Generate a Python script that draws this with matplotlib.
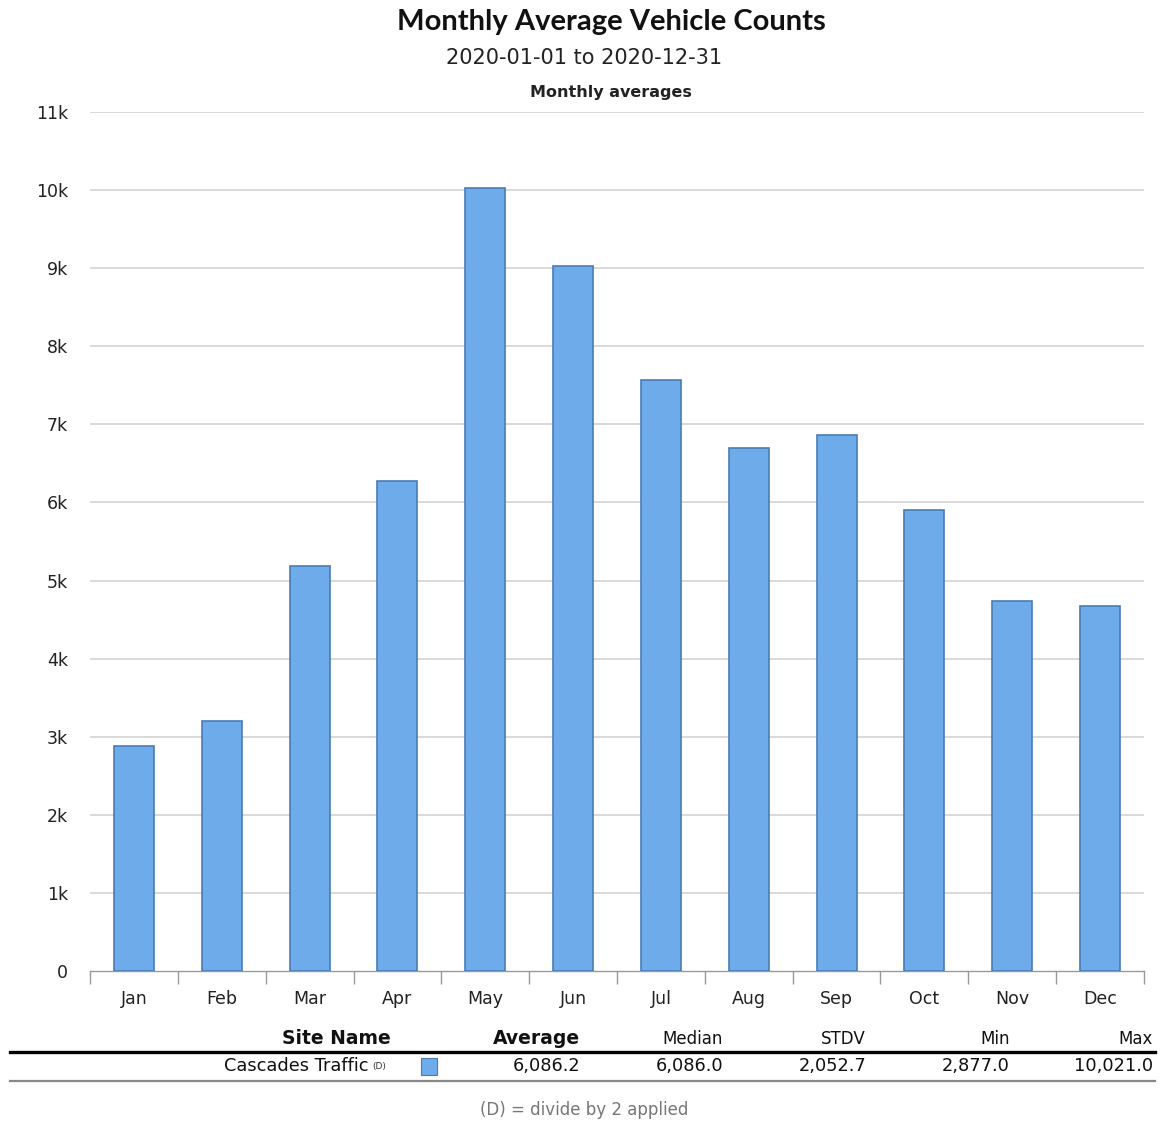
import matplotlib
matplotlib.use("Agg")
import matplotlib.pyplot as plt
from matplotlib.lines import Line2D
from matplotlib.patches import Rectangle
import numpy as np

# ---- data ----
months = ["Jan", "Feb", "Mar", "Apr", "May", "Jun",
          "Jul", "Aug", "Sep", "Oct", "Nov", "Dec"]
avg_counts = [2877, 3200, 5190, 6270, 10021, 9030,
              7570, 6700, 6860, 5902, 4740, 4680]
y_ticks = [0, 1000, 2000, 3000, 4000, 5000, 6000, 7000, 8000, 9000, 10000, 11000]
y_tick_labels = ["0", "1k", "2k", "3k", "4k", "5k", "6k", "7k", "8k", "9k", "10k", "11k"]

table_headers = ["Site Name", "Average", "Median", "STDV", "Min", "Max"]
site_name = "Cascades Traffic"
site_stats = ["6,086.2", "6,086.0", "2,052.7", "2,877.0", "10,021.0"]

W, H = 1161, 1122
fig = plt.figure(figsize=(W / 100, H / 100), dpi=100)
fig.patch.set_facecolor("white")


def fx(px):
    return px / W


def fy(py):
    return 1 - py / H


# plot area
ax = fig.add_axes([fx(90), fy(971), fx(1144) - fx(90), fy(112) - fy(971)])
x = np.arange(len(months))
ax.bar(x, avg_counts, width=0.455, color="#6EABEA", edgecolor="#4C7BB4",
       linewidth=1.2, zorder=3)

ax.set_xlim(-0.5, len(months) - 0.5)
ax.set_ylim(0, 11000)
ax.set_yticks(y_ticks)
ax.set_yticklabels(y_tick_labels, fontsize=12.5, color="#222222",
                   family="DejaVu Sans")
ax.tick_params(axis="y", length=0, pad=16)
for v in y_ticks[1:]:
    ax.axhline(v, color="#d0d0d0", linewidth=1.1, zorder=1)

ax.set_xticks(x)
ax.set_xticklabels(months, fontsize=12.5, color="#222222", family="DejaVu Sans")
ax.set_xticks(np.arange(-0.5, len(months)), minor=True)
ax.tick_params(axis="x", which="major", length=0, pad=14)
ax.tick_params(axis="x", which="minor", length=9, width=1, color="#999999",
               direction="out")

for side in ["left", "right", "top"]:
    ax.spines[side].set_visible(False)
ax.spines["bottom"].set_color("#999999")
ax.spines["bottom"].set_linewidth(1)

# titles
fig.text(fx(611), fy(22), "Monthly Average Vehicle Counts", ha="center",
         va="center", fontsize=21, fontweight="bold", family="Lato",
         color="#111111")
fig.text(fx(584), fy(58), "2020-01-01 to 2020-12-31", ha="center",
         va="center", fontsize=15, color="#222222", family="DejaVu Sans")
fig.text(fx(611), fy(93), "Monthly averages", ha="center", va="center",
         fontsize=11.5, fontweight="bold", color="#222222",
         family="DejaVu Sans")

# summary table
header_x = [391, 580, 723, 866, 1010, 1153]
header_bold = [True, True, False, False, False, False]
for hx, txt, bold in zip(header_x, table_headers, header_bold):
    fig.text(fx(hx), fy(1039), txt, ha="right", va="center",
             fontsize=13.5 if bold else 12,
             fontweight="bold" if bold else "normal",
             color="#111111", family="DejaVu Sans")

fig.add_artist(Line2D([fx(10), fx(1155)], [fy(1052), fy(1052)],
                      color="black", linewidth=2.4, transform=fig.transFigure))
fig.add_artist(Line2D([fx(10), fx(1155)], [fy(1081), fy(1081)],
                      color="#888888", linewidth=1.6, transform=fig.transFigure))

fig.text(fx(369), fy(1066), site_name, ha="right", va="center", fontsize=12.8,
         color="#111111", family="DejaVu Sans")
fig.text(fx(372), fy(1067), "(D)", ha="left", va="center", fontsize=6.5,
         color="#333333", family="DejaVu Sans")
fig.add_artist(Rectangle((fx(421), fy(1075)), fx(16), fy(1058) - fy(1075),
                         facecolor="#6EABEA", edgecolor="#4C7BB4",
                         linewidth=0.8, transform=fig.transFigure))
for vx, val in zip(header_x[1:], site_stats):
    fig.text(fx(vx), fy(1066), val, ha="right", va="center", fontsize=12.8,
             color="#111111", family="DejaVu Sans")

fig.text(fx(584), fy(1110), "(D) = divide by 2 applied", ha="center",
         va="center", fontsize=12, color="#777777", family="DejaVu Sans")

fig.savefig("out.png", dpi=100, facecolor="white")
